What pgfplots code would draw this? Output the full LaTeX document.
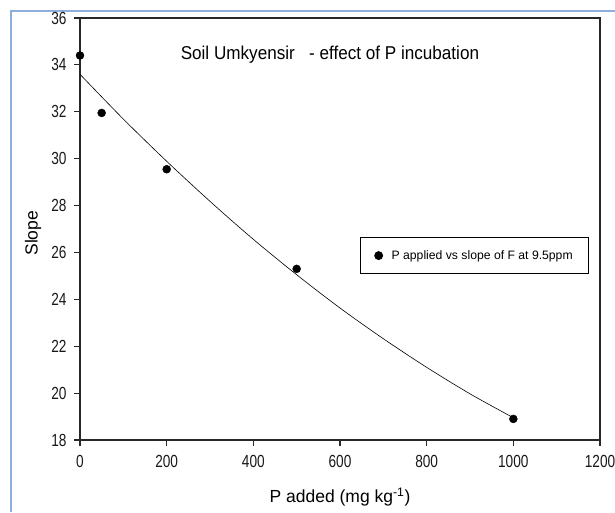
\documentclass[border=0pt]{standalone}
\usepackage{pgfplots}
\pgfplotsset{compat=1.18}
\usepackage{fontspec}
\setmainfont{Liberation Sans}
\newfontfamily\narrowfont[FakeStretch=0.78]{Liberation Sans}
\newfontfamily\titlefont[FakeStretch=0.92]{Liberation Sans}
\definecolor{framebl}{RGB}{140,175,220}
\definecolor{axgray}{RGB}{40,40,40}
\begin{document}
\begin{tikzpicture}[x=1pt,y=1pt]
\useasboundingbox (0,0) rectangle (615,-512);
\fill[white] (0,0) rectangle (615,-512);
\draw[framebl, line width=1.2pt] (11,-512) -- (11,-11) -- (615,-11);
\begin{axis}[
  scale only axis,
  width=520pt, height=422pt,
  at={(80pt,-440pt)}, anchor=south west,
  xmin=0, xmax=1200, ymin=18, ymax=36,
  xtick={0,200,...,1200}, ytick={18,20,...,36},
  tick align=outside, tick pos=left,
  major tick length=6pt,
  axis line style={axgray, line width=1.3pt},
  every tick/.style={axgray, line width=1.1pt},
  tick label style={font=\narrowfont\fontsize{17.5}{17.5}\selectfont, text=black!90},
  xticklabel style={yshift=-6pt},
  yticklabel style={xshift=-4pt},
  /pgf/number format/assume math mode=true,
  /pgf/number format/1000 sep={},
  xlabel={P added (mg kg\textsuperscript{-1})},
  ylabel={Slope},
  label style={font=\fontsize{17.5}{17.5}\selectfont},
  xlabel style={at={(rel axis cs:0.5,-0.135)}, anchor=center},
  ylabel style={at={(rel axis cs:-0.09,0.49)}, anchor=center},
  legend style={at={(0.759,0.437)}, anchor=center, draw=black, line width=0.8pt,
    font=\fontsize{12.2}{12.2}\selectfont, inner xsep=14pt, inner ysep=11pt,
    column sep=7pt},
  legend cell align=left,
]
\addplot[black, line width=0.6pt, smooth, forget plot] coordinates {
  (0,33.6) (100,31.69) (200,29.89) (300,28.18) (400,26.56) (500,25.05)
  (600,23.63) (700,22.32) (800,21.10) (900,19.97) (1000,18.95)
};
\addplot[only marks, mark=*, mark size=4pt, black] coordinates {
  (0,34.4) (50,31.95) (200,29.55) (500,25.3) (1000,18.9)
};
\addlegendentry{P applied vs slope of F at 9.5ppm}
\node[anchor=base west, font=\titlefont\fontsize{18.6}{18.6}\selectfont] at (rel axis cs:0.187,0.902) {Soil Umkyensir\ \ \ - effect of P incubation};
\end{axis}
\end{tikzpicture}
\end{document}
